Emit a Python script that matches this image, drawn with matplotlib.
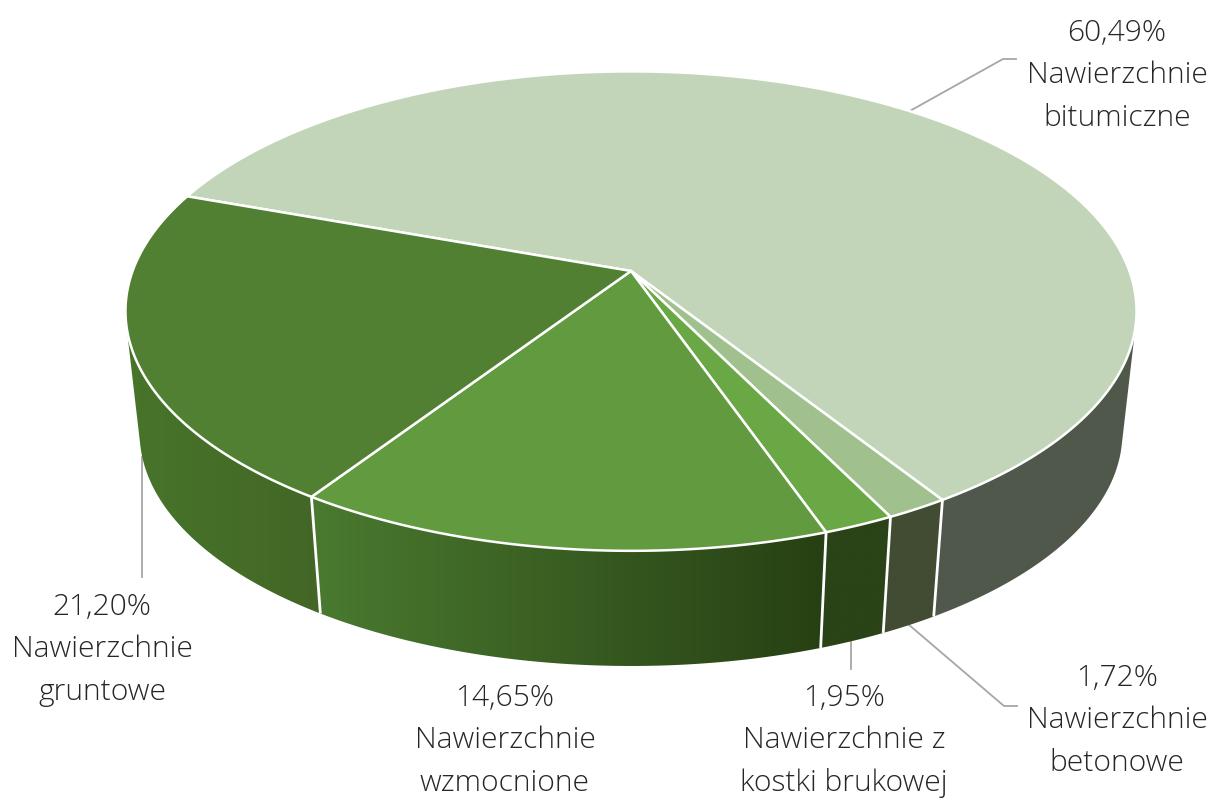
import numpy as np
import matplotlib.pyplot as plt
from matplotlib.colors import to_rgb
from matplotlib.patches import Polygon

# slices, clockwise from the back left edge
names = ["Nawierzchnie\nbitumiczne", "Nawierzchnie\nbetonowe", "Nawierzchnie z\nkostki brukowej",
         "Nawierzchnie\nwzmocnione", "Nawierzchnie\ngruntowe"]
shares = [60.49, 1.72, 1.95, 14.65, 21.20]
top_colors = ["#c3d5b9", "#a0c18e", "#6aa845", "#619a3f", "#528033"]
side_left = ["#4f584b", "#414c33", "#2a4317", "#4a7a30", "#47752a"]
side_right = ["#4f584b", "#414c33", "#2a4317", "#274013", "#436626"]

# label centre (x, y of first line) and leader line for each slice
label_x = [1117, 1117, 844, 505, 102]
label_y = [33, 678, 698, 698, 607]
leaders = [[(908, 112), (1003, 59), (1016, 59)],
           [(908, 624), (1004, 706), (1017, 706)],
           [(851, 641), (851, 669)],
           None,
           [(142, 457), (142, 577)]]

# perspective disc: apex position and projection constants
cx, cy = 631.0, 271.0
a, c, k = 498.4, 233.0, 0.1673
depth, shrink = 123.0, 0.972
start_angle = 160.2
white = "#ffffff"
line_gray = "#a6a6a6"


def top_point(t):
    d = 1 + k * np.sin(t)
    return cx + a * np.cos(t) / d, cy - c * np.sin(t) / d


def bottom_point(t):
    d = 1 + k * np.sin(t)
    return cx + shrink * a * np.cos(t) / d, cy + depth - shrink * c * np.sin(t) / d


fig = plt.figure(figsize=(12.12, 8), dpi=100)
ax = fig.add_axes([0, 0, 1, 1])

plt.rcParams["font.family"] = ["Open Sans", "DejaVu Sans"]

fractions = np.array(shares) / sum(shares)
edges = np.radians(start_angle - 360 * np.concatenate([[0], np.cumsum(fractions)]))

# side walls: horizontal gradient image clipped to the visible part of each slice
for i in range(len(shares)):
    ts = np.linspace(edges[i], edges[i + 1], 800)
    xt, yt = top_point(ts)
    xb, yb = bottom_point(ts)
    # keep only the part of the wall that faces the viewer
    facing = np.gradient(xt) * (yb - yt) - np.gradient(yt) * (xb - xt) < 0
    xt, yt, xb, yb = xt[facing], yt[facing], xb[facing], yb[facing]
    outline = np.column_stack([np.r_[xt, xb[::-1]], np.r_[yt, yb[::-1]]])
    x0, x1 = outline[:, 0].min(), outline[:, 0].max()
    ramp = np.linspace(0, 1, 256)[None, :, None]
    c0, c1 = np.array(to_rgb(side_left[i])), np.array(to_rgb(side_right[i]))
    grad = c0 + (c1 - c0) * ramp
    im = ax.imshow(grad, extent=(x0, x1, outline[:, 1].max(), outline[:, 1].min()),
                   aspect="auto", interpolation="bilinear", zorder=2)
    im.set_clip_path(Polygon(outline, transform=ax.transData))

ax.set_xlim(0, 1212)
ax.set_ylim(800, 0)
ax.axis("off")

# white separators on the visible wall
for t in edges:
    if np.sin(t) < -0.1:
        xa, ya = top_point(t)
        xe, ye = bottom_point(t)
        ax.plot([xa, xe], [ya, ye], color=white, lw=2.0, zorder=3, solid_capstyle="butt")

# top faces
for i in range(len(shares)):
    ts = np.linspace(edges[i], edges[i + 1], 300)
    xt, yt = top_point(ts)
    ax.fill(np.r_[cx, xt], np.r_[cy, yt], facecolor=top_colors[i], edgecolor=white,
            linewidth=1.8, joinstyle="round", zorder=4)

# leader lines
for pts in leaders:
    if pts is not None:
        ax.plot([p[0] for p in pts], [p[1] for p in pts], color=line_gray, lw=1.3, zorder=1)

# labels
for i in range(len(shares)):
    pct = f"{shares[i]:.2f}".replace(".", ",") + "%"
    lines = [pct] + names[i].split("\n")
    for n, line in enumerate(lines):
        ax.text(label_x[i], label_y[i] + n * 42.5, line, ha="center", va="center",
                fontsize=21.6, fontweight="light", color="#262626", zorder=5)

fig.savefig("out.png", dpi=100)
